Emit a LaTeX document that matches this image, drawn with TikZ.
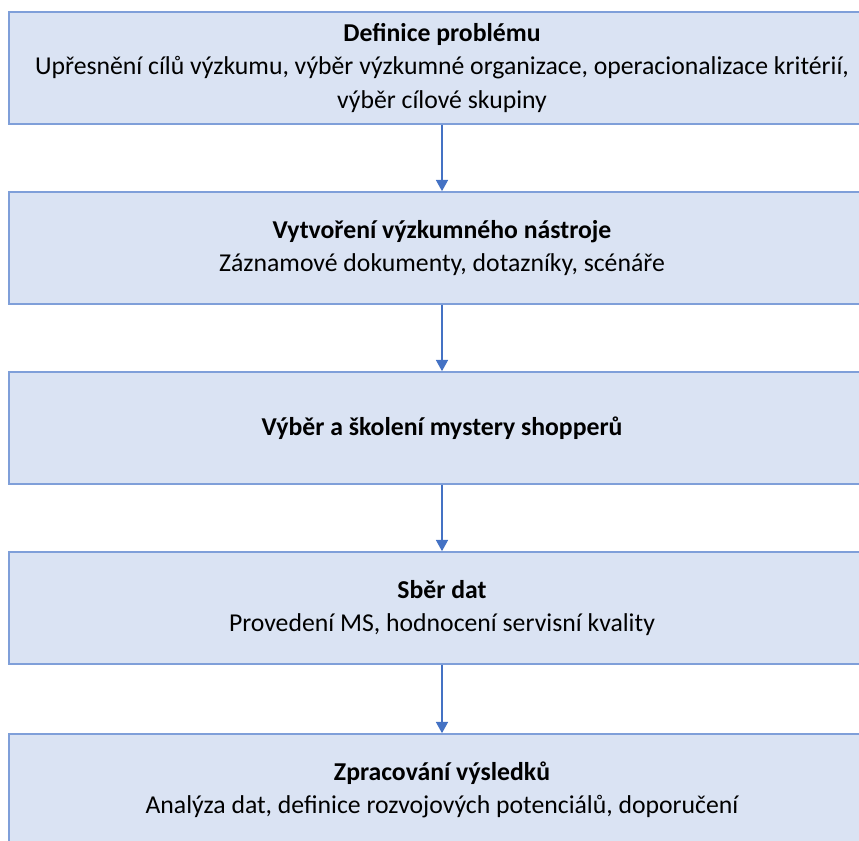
\documentclass[tikz,border=0pt]{standalone}
\usepackage{fontspec}
\setmainfont{Carlito}
\usepackage{tikz}
\usetikzlibrary{arrows.meta}

\definecolor{boxfill}{HTML}{DAE3F3}
\definecolor{boxline}{HTML}{7F9FD9}
\definecolor{arrowblue}{HTML}{4472C4}

\begin{document}
\begin{tikzpicture}[font=\fontsize{18.3}{24}\selectfont,
	krok/.style={draw=boxline, line width=1.2pt, fill=boxfill, minimum width=21.65cm, minimum height=2.8cm, align=center, inner sep=0pt},
	sipka/.style={draw=arrowblue, line width=1.1pt, -{Triangle[width=0.3cm,length=0.28cm]}}]
		% --- Rámec obrázku (859 x 840 px, 1 cm = 40 px) ---
		\useasboundingbox (0,0) rectangle (21.475,21);
		\clip (0,0) rectangle (21.475,21);

		% --- Kroky výzkumu ---
		\node[krok] (definice) at (11.05,19.3) {\textbf{Definice problému}\\Upřesnění cílů výzkumu, výběr výzkumné organizace, operacionalizace kritérií,\\výběr cílové skupiny};
		\node[krok] (nastroj) at (11.05,14.8) {\textbf{Vytvoření výzkumného nástroje}\\Záznamové dokumenty, dotazníky, scénáře};
		\node[krok] (skoleni) at (11.05,10.3) {\textbf{Výběr a školení mystery shopperů}};
		\node[krok] (sber) at (11.05,5.8) {\textbf{Sběr dat}\\Provedení MS, hodnocení servisní kvality};
		\node[krok] (vysledky) at (11.05,1.25) {\textbf{Zpracování výsledků}\\Analýza dat, definice rozvojových potenciálů, doporučení};

		% --- Šipky mezi kroky ---
		\draw[sipka] (definice) -- (nastroj);
		\draw[sipka] (nastroj) -- (skoleni);
		\draw[sipka] (skoleni) -- (sber);
		\draw[sipka] (sber) -- (vysledky);
	\end{tikzpicture}
\end{document}
